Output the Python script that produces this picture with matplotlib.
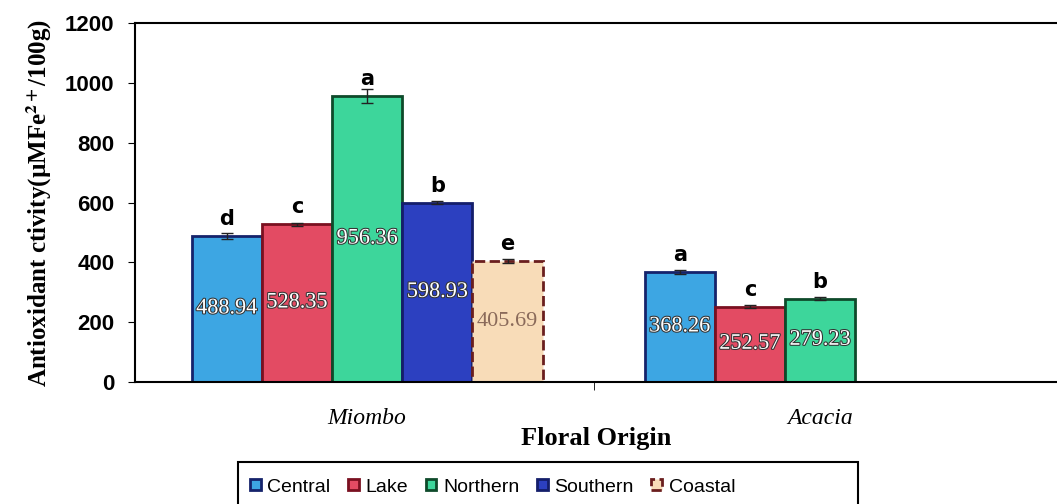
import numpy as np
import matplotlib.pyplot as plt
import matplotlib.patheffects as pe
from matplotlib.patches import Patch, Rectangle
from matplotlib import font_manager

plt.rcParams['mathtext.fontset'] = 'stix'

origins = ["Miombo", "Acacia"]
regions = ["Central", "Lake", "Northern", "Southern", "Coastal"]
# values per region: [Miombo, Acacia]; NaN = no sample
values = {
	"Central": [488.94, 368.26],
	"Lake": [528.35, 252.57],
	"Northern": [956.36, 279.23],
	"Southern": [598.93, np.nan],
	"Coastal": [405.69, np.nan],
}
errors = {
	"Central": [10, 6],
	"Lake": [5, 6],
	"Northern": [22, 5],
	"Southern": [5, 0],
	"Coastal": [6, 0],
}
letters = {
	"Central": ["d", "a"],
	"Lake": ["c", "c"],
	"Northern": ["a", "b"],
	"Southern": ["b", ""],
	"Coastal": ["e", ""],
}
value_text = {
	"Central": ["488.94", "368.26"],
	"Lake": ["528.35", "252.57"],
	"Northern": ["956.36", "279.23"],
	"Southern": ["598.93", ""],
	"Coastal": ["405.69", ""],
}

face = {"Central": "#3da6e3", "Lake": "#e34b63", "Northern": "#3dd69b",
		"Southern": "#2c40c0", "Coastal": "#f8dcb8"}
edge = {"Central": "#15236b", "Lake": "#7a1020", "Northern": "#0e4a2a",
		"Southern": "#141e6a", "Coastal": "#6a1e1e"}

# narrow sans for the legend if available
names = {f.name for f in font_manager.fontManager.ttflist}
leg_font = {"family": "Liberation Sans Narrow", "size": 17} if "Liberation Sans Narrow" in names \
	else {"family": "Liberation Sans", "size": 14}

fig = plt.figure(figsize=(10.57, 5.04), dpi=100)
ax = fig.add_axes([0.128, 0.242, 0.872, 0.712])

x = np.arange(len(origins))
w = 0.155
for i, r in enumerate(regions):
	pos = x + (i - 2) * w
	vals = np.array(values[r], dtype=float)
	ok = ~np.isnan(vals)
	ls = "--" if r == "Coastal" else "-"
	ax.bar(pos[ok], vals[ok], width=w, color=face[r], edgecolor=edge[r],
		   linewidth=2, linestyle=ls, zorder=2)
	ax.errorbar(pos[ok], vals[ok], yerr=np.array(errors[r])[ok], fmt="none",
				ecolor="#222222", elinewidth=1, capsize=4, zorder=3)
	for p, v, lt, vt in zip(pos, vals, letters[r], value_text[r]):
		if np.isnan(v):
			continue
		ax.annotate(lt, (p, v), xytext=(0, 5), textcoords="offset points",
					ha="center", va="bottom", fontsize=15, fontweight="bold",
					family="DejaVu Sans")
		if r == "Coastal":
			ax.text(p, v / 2, vt, ha="center", va="center", fontsize=16,
					family="Liberation Serif", color="#8a6a5a", zorder=4)
		else:
			ax.text(p, v / 2, vt, ha="center", va="center", fontsize=16,
					family="Liberation Serif", color="white", zorder=4,
					path_effects=[pe.withStroke(linewidth=1.5, foreground="#333333")])

ax.set_xlim(-0.512, 1.523)
ax.set_ylim(0, 1200)
ax.set_yticks(np.arange(0, 1201, 200))
ax.set_xticks(x)
ax.set_xticklabels(origins, fontsize=17, family="Liberation Serif", style="italic")
ax.set_xticks([0.5], minor=True)
ax.tick_params(axis="x", which="major", length=0, pad=19)
ax.tick_params(axis="x", which="minor", length=6, direction="out")
ax.tick_params(axis="y", length=5, direction="out", labelsize=16, pad=10)
for lab in ax.get_yticklabels():
	lab.set_fontweight("bold")
	lab.set_family("Liberation Sans")

ax.spines["right"].set_visible(False)
for s in ["left", "bottom", "top"]:
	ax.spines[s].set_linewidth(1.5)

ax.set_xlabel("Floral Origin", fontsize=19, fontweight="bold",
			  family="Liberation Serif", labelpad=-2)
ax.set_ylabel(r"Antioxidant ctivity(µMFe$^{\mathbf{2+}}$/100g)", fontsize=18,
			  fontweight="bold", family="Liberation Serif", labelpad=8)

handles = [Patch(facecolor=face[r], edgecolor=edge[r], linewidth=2,
				 linestyle="--" if r == "Coastal" else "-") for r in regions]
leg = fig.legend(handles, regions, loc="center left", bbox_to_anchor=(250 / 1057, 1 - 487 / 504),
				 ncol=5, frameon=False, handlelength=0.55, handleheight=0.55,
				 handletextpad=0.35, columnspacing=0.9, borderpad=0.0, borderaxespad=0,
				 prop=leg_font)
fig.patches.append(Rectangle((238 / 1057, -0.05), 620 / 1057, 0.05 + 42 / 504,
							 transform=fig.transFigure, fill=False,
							 edgecolor="black", linewidth=1.5))

fig.savefig("out.png", dpi=100)
